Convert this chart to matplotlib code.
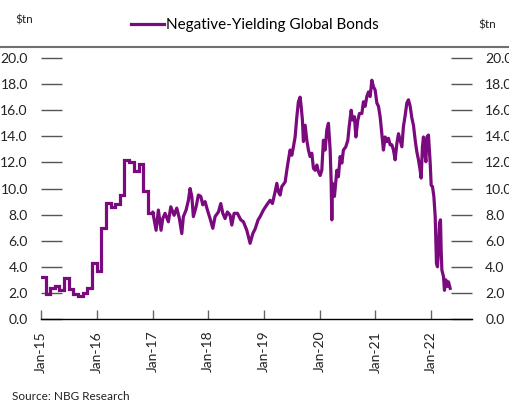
import matplotlib.pyplot as plt
import matplotlib.dates as mdates
from matplotlib.lines import Line2D
import pandas as pd

plt.rcParams['font.family'] = ['Lato', 'DejaVu Sans']

# monthly readings, 2015-2016 (drawn as steps)
step_months = ['2015-01', '2015-02', '2015-03', '2015-04', '2015-05', '2015-06',
               '2015-07', '2015-08', '2015-09', '2015-10', '2015-11', '2015-12',
               '2016-01', '2016-02', '2016-03', '2016-04', '2016-05', '2016-06',
               '2016-07', '2016-08', '2016-09', '2016-10', '2016-11', '2016-12',
               '2017-01']
step_values = [3.2, 1.9, 2.4, 2.5, 2.2, 3.15, 2.3, 1.9, 1.75, 2.0, 2.4, 4.3,
               3.7, 6.95, 8.9, 8.6, 8.85, 9.5, 12.2, 12.05, 11.35, 11.9, 9.8, 8.1,
               8.1]

# readings from 2017 on, dates as decimal years
daily_years = [
    2017.000, 2017.005, 2017.065, 2017.106, 2017.154, 2017.185, 2017.226, 2017.285,
    2017.329, 2017.388, 2017.436, 2017.483, 2017.526, 2017.555, 2017.603, 2017.645,
    2017.675, 2017.706, 2017.734, 2017.783, 2017.824, 2017.867, 2017.903, 2017.944,
    2017.986, 2018.034, 2018.083, 2018.124, 2018.183, 2018.226, 2018.262, 2018.303,
    2018.345, 2018.393, 2018.424, 2018.465, 2018.524, 2018.585, 2018.632, 2018.693,
    2018.752, 2018.801, 2018.842, 2018.896, 2018.932, 2018.991, 2019.052, 2019.111,
    2019.153, 2019.201, 2019.232, 2019.260, 2019.291, 2019.321, 2019.381, 2019.411,
    2019.440, 2019.470, 2019.501, 2019.530, 2019.560, 2019.591, 2019.619, 2019.650,
    2019.668, 2019.691, 2019.709, 2019.740, 2019.770, 2019.799, 2019.829, 2019.860,
    2019.889, 2019.919, 2019.950, 2019.978, 2020.009, 2020.039, 2020.068, 2020.099,
    2020.129, 2020.158, 2020.189, 2020.206, 2020.219, 2020.230, 2020.266, 2020.309,
    2020.337, 2020.368, 2020.399, 2020.427, 2020.470, 2020.506, 2020.530, 2020.566,
    2020.589, 2020.625, 2020.650, 2020.686, 2020.714, 2020.758, 2020.786, 2020.817,
    2020.847, 2020.876, 2020.907, 2020.937, 2020.966, 2020.996, 2021.027, 2021.056,
    2021.086, 2021.117, 2021.145, 2021.176, 2021.206, 2021.235, 2021.266, 2021.296,
    2021.325, 2021.355, 2021.386, 2021.415, 2021.445, 2021.476, 2021.504, 2021.535,
    2021.565, 2021.594, 2021.625, 2021.655, 2021.684, 2021.715, 2021.745, 2021.774,
    2021.804, 2021.822, 2021.845, 2021.863, 2021.881, 2021.907, 2021.925, 2021.953,
    2021.984, 2022.002, 2022.025, 2022.050, 2022.074, 2022.086, 2022.097, 2022.115,
    2022.133, 2022.151, 2022.169, 2022.181, 2022.194, 2022.223, 2022.240, 2022.266,
    2022.294, 2022.312, 2022.343]
daily_values = [
    8.1, 8.2, 6.8, 8.35, 6.8, 7.7, 8.1, 7.45,
    8.6, 7.95, 8.5, 7.7, 6.55, 7.85, 8.35, 9.1,
    10.0, 9.4, 7.85, 8.6, 9.5, 9.4, 8.75, 9.0,
    8.35, 7.7, 6.95, 7.85, 8.2, 8.85, 8.1, 7.7,
    8.2, 7.95, 7.2, 8.1, 8.1, 7.6, 7.45, 6.8,
    5.8, 6.55, 6.9, 7.6, 7.85, 8.35, 8.75, 9.1,
    8.85, 9.75, 10.4, 9.75, 9.5, 10.15, 10.5, 11.4,
    12.2, 12.95, 12.55, 13.2, 13.95, 15.5, 16.65, 17.0,
    16.3, 15.25, 13.6, 14.85, 13.7, 12.95, 12.45, 12.7,
    11.55, 11.4, 11.8, 11.3, 11.0, 11.4, 13.7, 12.95,
    14.5, 15.0, 12.95, 10.65, 7.6, 10.4, 9.4, 11.4,
    10.9, 12.45, 11.95, 12.95, 13.2, 13.7, 14.75, 16.0,
    15.25, 15.5, 13.95, 15.25, 15.75, 15.75, 16.65, 16.3,
    17.05, 17.4, 17.05, 18.3, 17.8, 17.55, 16.55, 16.3,
    15.5, 14.2, 12.95, 13.95, 13.6, 13.85, 13.35, 13.35,
    12.95, 12.2, 13.45, 14.2, 13.7, 13.2, 14.75, 15.6,
    16.55, 16.8, 16.3, 15.4, 14.85, 13.7, 12.8, 12.2,
    11.4, 10.8, 13.2, 13.95, 12.95, 12.05, 13.95, 14.1,
    11.95, 10.25, 10.15, 9.4, 7.85, 6.05, 4.25, 4.0,
    5.3, 7.35, 7.6, 5.3, 3.75, 3.25, 2.2, 3.0,
    2.5, 2.85, 2.35]

y_ticks = [0, 2, 4, 6, 8, 10, 12, 14, 16, 18, 20]
x_tick_years = list(range(2015, 2023))

purple = '#7b0a7e'
base = pd.Timestamp('2015-01-01')


def to_date(yr):
    return base + pd.to_timedelta((yr - 2015) * 365.25, unit='D')


step_dates = pd.to_datetime(step_months)
daily_dates = [to_date(v) for v in daily_years]

fig = plt.figure(figsize=(5.09, 4.03), dpi=100)
ax = fig.add_axes([0.0806, 0.2084, 0.8467, 0.6476])

ax.step(step_dates, step_values, where='post', color=purple, lw=2.3,
        solid_joinstyle='miter', label='Negative-Yielding Global Bonds')
ax.plot(daily_dates, daily_values, color=purple, lw=2.3)

ax.set_ylim(0, 20)
ax.set_xlim(base, pd.Timestamp('2022-09-26'))
ax.set_yticks(y_ticks)
ax.set_yticklabels([f'{v:.1f}' for v in y_ticks])
ax.set_xticks([pd.Timestamp(f'{y}-01-01') for y in x_tick_years])
ax.xaxis.set_major_formatter(mdates.DateFormatter('%b-%y'))

for s in ['top', 'left', 'right']:
    ax.spines[s].set_visible(False)
ax.spines['bottom'].set_color('#000000')
ax.spines['bottom'].set_linewidth(1.0)

ax.tick_params(axis='y', direction='in', length=15.2, width=1, color='#555555',
               labelsize=10, labelcolor='#222222', pad=9.5,
               left=True, right=True, labelleft=True, labelright=True)
ax.tick_params(axis='x', direction='in', length=6.5, width=1, color='#666666',
               labelsize=10, labelcolor='#222222', pad=8.5, labelrotation=90)

fig.add_artist(Line2D([0, 1], [1 - 47 / 403] * 2, transform=fig.transFigure,
                      color='#707070', lw=1.5))

fig.text(15 / 509, 1 - 20 / 403, '$tn', fontsize=8.5, color='#222222',
         va='center', ha='left')
fig.text(478 / 509, 1 - 25 / 403, '$tn', fontsize=8.5, color='#222222',
         va='center', ha='left')
fig.text(12 / 509, 1 - 397 / 403, 'Source: NBG Research', fontsize=8.5,
         color='#222222', va='center', ha='left')

fig.legend(loc='center', bbox_to_anchor=(255 / 509, 1 - 25 / 403), frameon=False,
           fontsize=11, handlelength=2.1, handletextpad=0.15)

fig.savefig('out.png', dpi=100)
